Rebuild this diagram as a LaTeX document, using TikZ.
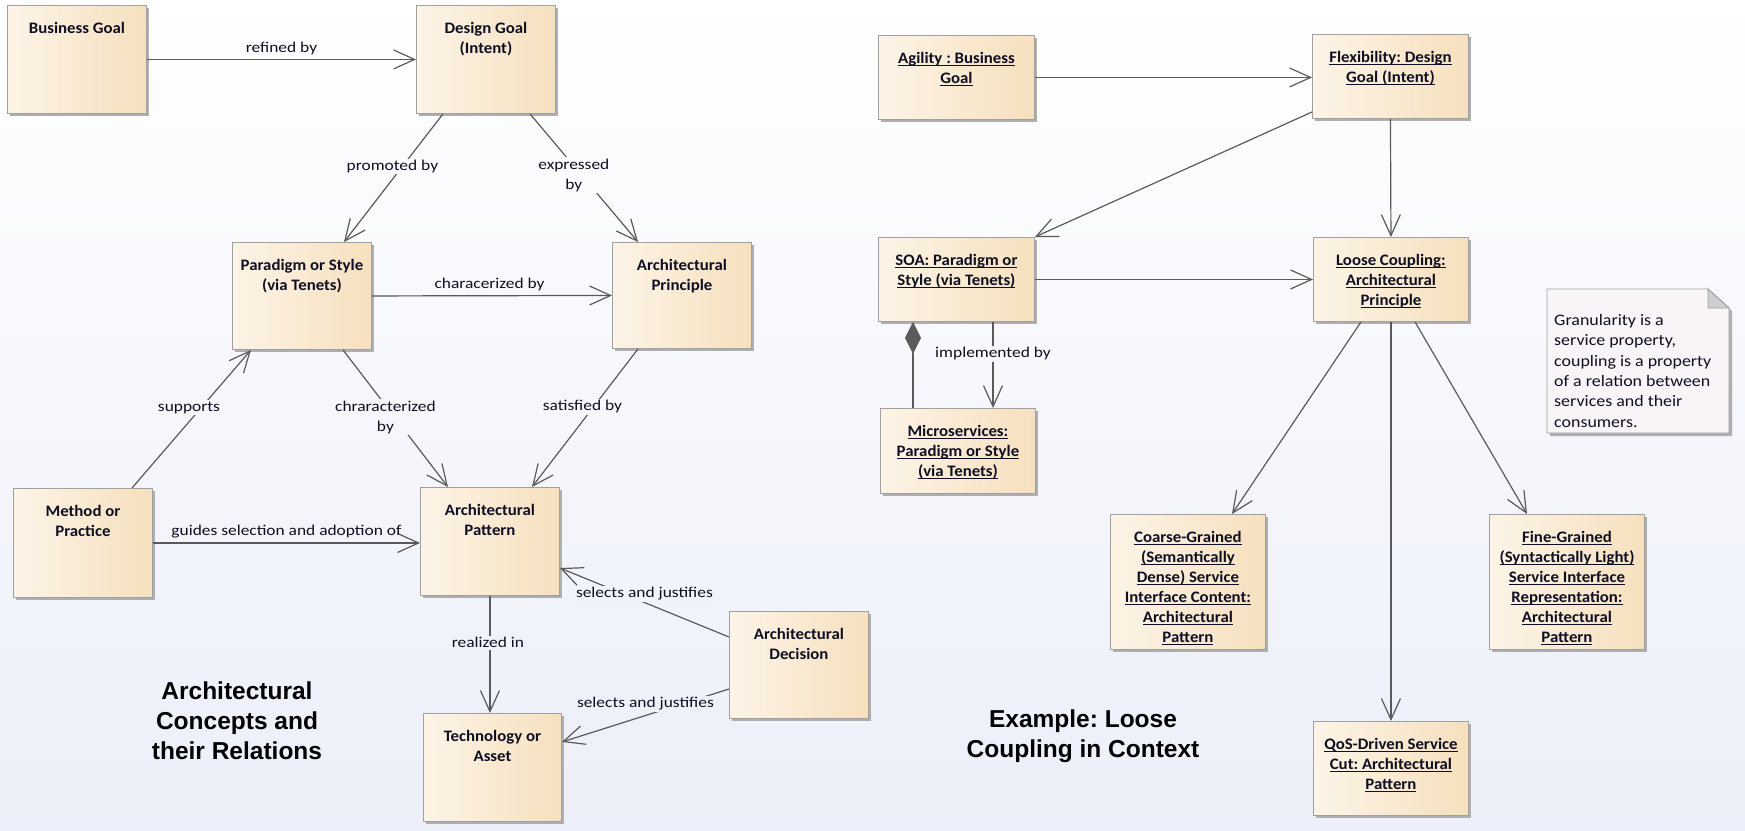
\documentclass[tikz,border=0pt]{standalone}
\usepackage{fontspec}
\setmainfont{Carlito}
\newfontfamily\elemfont[FakeStretch=1.05]{Carlito}
\newfontfamily\relfont[FakeStretch=1.16]{Carlito}
\newfontfamily\notefont[FakeStretch=1.12]{Carlito}
\newfontfamily\headfont{Liberation Sans}
\usetikzlibrary{arrows.meta,shadows}

\definecolor{boxleft}{RGB}{253,244,231}
\definecolor{boxright}{RGB}{246,224,190}
\definecolor{boxline}{RGB}{160,160,160}
\definecolor{shadowgray}{RGB}{175,175,178}
\definecolor{linegray}{RGB}{90,90,90}
\definecolor{bgbottom}{RGB}{236,239,249}
\definecolor{notefill}{RGB}{249,244,247}
\definecolor{notefold}{RGB}{205,205,210}
\definecolor{inktext}{RGB}{15,15,35}

% underline for instance names
\newcommand{\undl}[1]{\setbox0\hbox{#1}\rlap{\rule[-2.6pt]{\wd0}{1.1pt}}\box0}

\tikzset{
  element/.style={draw=boxline, line width=0.9pt, left color=boxleft, right color=boxright,
    anchor=north west, inner sep=0pt,
    drop shadow={shadow xshift=3pt, shadow yshift=-3pt, fill=shadowgray, opacity=1}},
  elemtext/.style={anchor=north, yshift=-17pt, inner sep=0pt, align=center, text=inktext,
    font=\elemfont\bfseries\fontsize{16}{20}\selectfont},
  rel/.style={draw=linegray, line width=1.2pt,
    -{Straight Barb[length=21pt, width=19pt, line width=1.2pt]}},
  composition/.style={draw=linegray, line width=1.2pt,
    {Diamond[length=32pt, width=16pt, fill=linegray]}-},
  reltext/.style={inner sep=1.5pt, text=inktext, font=\relfont\fontsize{15}{20}\selectfont, align=center},
  relcut/.style={reltext, fill=bgbottom!#1!white},
  notetext/.style={inner sep=0pt, align=left, text=inktext, font=\notefont\fontsize{16}{20.4}\selectfont},
  heading/.style={align=center, text=black, font=\headfont\bfseries\fontsize{24.5}{30}\selectfont},
}

\begin{document}
\frenchspacing
\begin{tikzpicture}[x=1pt, y=-1pt]
    \useasboundingbox (0,0) rectangle (1745,830);
    \shade[top color=white, bottom color=bgbottom] (0,0) rectangle (1745,830);

    % Concepts and their relations
    \node[element, minimum width=139pt, minimum height=108pt, label={[elemtext]north:Business Goal}] (bg) at (7,5) {};
    \node[element, minimum width=139pt, minimum height=108pt, label={[elemtext]north:{Design Goal\\(Intent)}}] (dg) at (416,5) {};
    \node[element, minimum width=139pt, minimum height=107pt, label={[elemtext]north:{Paradigm or Style\\(via Tenets)}}] (ps) at (232,242) {};
    \node[element, minimum width=139pt, minimum height=106pt, label={[elemtext]north:{Architectural\\Principle}}] (ap) at (612,242) {};
    \node[element, minimum width=139pt, minimum height=109pt, label={[elemtext]north:{Method or\\Practice}}] (mp) at (13,488) {};
    \node[element, minimum width=139pt, minimum height=108pt, label={[elemtext]north:{Architectural\\Pattern}}] (pat) at (420,487) {};
    \node[element, minimum width=138pt, minimum height=108pt, label={[elemtext]north:{Technology or\\Asset}}] (tech) at (423,713) {};
    \node[element, minimum width=139pt, minimum height=107pt, label={[elemtext]north:{Architectural\\Decision}}] (dec) at (729,611) {};

    \draw[rel] (bg.east) -- node[reltext, above=2.5pt, pos=.5] (rb) {refined by} (dg.west);
    \draw[rel] ([xshift=27pt]dg.south west) -- node[relcut=20, pos=.41, xshift=-10pt] (pb) {promoted by} ([xshift=112pt]ps.north west);
    \draw[rel] ([xshift=114pt]dg.south west) -- node[relcut=21, pos=.48, xshift=-8pt] (eb) {expressed\\by} ([xshift=26pt]ap.north west);
    \draw[rel] (ps.east) -- node[reltext, above=2.5pt, pos=.49] (cb) {characerized by} (ap.west);
    \draw[rel] ([xshift=119pt]mp.north west) -- node[relcut=49, pos=.58, xshift=-12pt] (sp) {supports} ([xshift=19pt]ps.south west);
    \draw[rel] ([xshift=111pt]ps.south west) -- node[relcut=50, pos=.49, xshift=-9pt] (chb) {chraracterized\\by} ([xshift=28pt]pat.north west);
    \draw[rel] ([xshift=26pt]ap.south west) -- node[relcut=49, pos=.42, xshift=-11pt] (sb) {satisfied by} ([xshift=112pt]pat.north west);
    \draw[rel] (mp.east) -- node[reltext, above=2.5pt, pos=.5] (gs) {guides selection and adoption of} (mp.east -| pat.west);
    \draw[rel] (pat.south) -- node[relcut=77, pos=.4, xshift=-2pt] (ri) {realized in} (pat.south |- tech.north);
    \draw[rel] ([yshift=-26pt]dec.north west) -- node[relcut=71, pos=.5, yshift=9pt] (sj1) {selects and justifies} ([yshift=-81pt]pat.north east);
    \draw[rel] ([yshift=-78pt]dec.north west) -- node[relcut=85, pos=.5, yshift=12pt] (sj2) {selects and justifies} ([yshift=-29pt]tech.north east);

    \node[heading] (concepts) at (237,721) {Architectural\\Concepts and\\their Relations};

    % Example: loose coupling
    \node[element, minimum width=156pt, minimum height=84pt, label={[elemtext]north:{\undl{Agility : Business}\\\undl{Goal}}}] (ag) at (878,35) {};
    \node[element, minimum width=156pt, minimum height=84pt, label={[elemtext]north:{\undl{Flexibility: Design}\\\undl{Goal (Intent)}}}] (flex) at (1312,34) {};
    \node[element, minimum width=156pt, minimum height=84pt, label={[elemtext]north:{\undl{SOA: Paradigm or}\\\undl{Style (via Tenets)}}}] (soa) at (878,237) {};
    \node[element, minimum width=155pt, minimum height=84pt, label={[elemtext]north:{\undl{Loose Coupling:}\\\undl{Architectural}\\\undl{Principle}}}] (lc) at (1313,237) {};
    \node[element, minimum width=155pt, minimum height=85pt, label={[elemtext]north:{\undl{Microservices:}\\\undl{Paradigm or Style}\\\undl{(via Tenets)}}}] (micro) at (880,408) {};
    \node[element, minimum width=155pt, minimum height=135pt, label={[elemtext]north:{\undl{Coarse-Grained}\\\undl{(Semantically}\\\undl{Dense) Service}\\\undl{Interface Content:}\\\undl{Architectural}\\\undl{Pattern}}}] (coarse) at (1110,514) {};
    \node[element, minimum width=155pt, minimum height=135pt, label={[elemtext]north:{\undl{Fine-Grained}\\\undl{(Syntactically Light)}\\\undl{Service Interface}\\\undl{Representation:}\\\undl{Architectural}\\\undl{Pattern}}}] (fine) at (1489,514) {};
    \node[element, minimum width=155pt, minimum height=94pt, label={[elemtext]north:{\undl{QoS-Driven Service}\\\undl{Cut: Architectural}\\\undl{Pattern}}}] (qos) at (1313,721) {};

    \draw[rel] (ag.east) -- (ag.east -| flex.west);
    \draw[rel] ([yshift=-78pt]flex.north west) -- (soa.north east);
    \draw[rel] (flex.south) -- (lc.north);
    \draw[rel] (soa.east) -- (lc.west);
    \draw[composition] ([xshift=35pt]soa.south west) -- ([xshift=33pt]micro.north west);
    \draw[rel] ([xshift=115pt]soa.south west) -- node[relcut=43, pos=.37] (ib) {implemented by} ([xshift=113pt]micro.north west);
    \draw[rel] ([xshift=48pt]lc.south west) -- ([xshift=122pt]coarse.north west);
    \draw[rel] (lc.south) -- (qos.north);
    \draw[rel] ([xshift=102pt]lc.south west) -- ([xshift=38pt]fine.north west);

    % Note
    \filldraw[fill=notefill, draw=boxline, line width=0.9pt,
      drop shadow={shadow xshift=3pt, shadow yshift=-3pt, fill=shadowgray, opacity=1}]
      (1547,289) -- (1708,289) -- (1729,308) -- (1729,433) -- (1547,433) -- cycle;
    \filldraw[fill=notefold, draw=boxline, line width=0.9pt] (1708,289) -- (1708,308) -- (1729,308) -- cycle;
    \node[notetext, anchor=north west] (note) at (1554,314) {Granularity is a\\service property,\\coupling is a property\\of a relation between\\services and their\\consumers.};

    \node[heading] (example) at (1083,736) {Example: Loose\\Coupling in Context};
\end{tikzpicture}
\end{document}
